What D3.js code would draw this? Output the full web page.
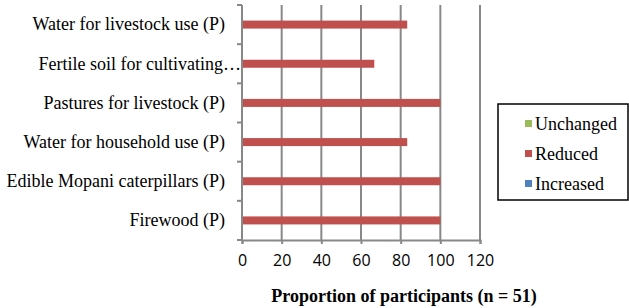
<!DOCTYPE html>
<html>
<head>
<meta charset="utf-8">
<script src="https://cdn.jsdelivr.net/npm/d3@7"></script>
<style>
  body { margin: 0; background: #fff; }
</style>
</head>
<body>
<div id="chart"></div>
<script>
// categories top to bottom, as shown in the chart
const categories = [
  "Water for livestock use (P)",
  "Fertile soil for cultivating…",
  "Pastures for livestock (P)",
  "Water for household use (P)",
  "Edible Mopani caterpillars (P)",
  "Firewood (P)"
];
const unchanged = [0, 0, 0, 0, 0, 0];
const reduced = [83.3, 66.7, 100, 83.3, 100, 100];
const increased = [0, 0, 0, 0, 0, 0];
const xTicks = [0, 20, 40, 60, 80, 100, 120];
const seriesNames = ["Unchanged", "Reduced", "Increased"];
const seriesColors = ["#9bbb59", "#c0504d", "#4f81bd"];

const W = 629, H = 308;
const margin = { top: 5, right: 149, bottom: 68, left: 242 };
const width = W - margin.left - margin.right;
const height = H - margin.top - margin.bottom;
const serif = "'Liberation Serif', 'Times New Roman', serif";

const svg = d3.select("#chart").append("svg")
  .attr("width", W).attr("height", H);

const g = svg.append("g")
  .attr("transform", `translate(${margin.left},${margin.top})`);

const x = d3.scaleLinear().domain([0, 120]).range([0, width]);
const y = d3.scaleBand().domain(categories).range([0, height]);
// three clustered series in each band: Unchanged top, Reduced middle, Increased bottom
const inner = d3.scaleBand().domain(seriesNames)
  .range([y.bandwidth() / 2 - 12, y.bandwidth() / 2 + 12]);

// vertical gridlines
g.selectAll(".grid").data(xTicks.slice(1))
  .enter().append("line")
  .attr("x1", d => x(d)).attr("x2", d => x(d))
  .attr("y1", 0).attr("y2", height)
  .attr("stroke", "#888").attr("stroke-width", 2);

// bars
const data = [unchanged, reduced, increased];
data.forEach((vals, si) => {
  g.selectAll(".bar" + si).data(categories)
    .enter().append("rect")
    .attr("x", x(0))
    .attr("y", (c) => y(c) + inner(seriesNames[si]))
    .attr("width", (c, i) => x(vals[i]) - x(0))
    .attr("height", inner.bandwidth())
    .attr("fill", seriesColors[si]);
});

// y axis
const yAxis = g.append("g")
  .call(d3.axisLeft(y).tickSize(0).tickPadding(17));
yAxis.select(".domain").remove();
yAxis.selectAll("text")
  .attr("font-family", serif)
  .attr("font-size", "18px").attr("fill", "#000")
  // truncated label runs closer to the axis, like the original
  .attr("dx", d => d.endsWith("…") ? 16 : 0);
g.append("line")
  .attr("x1", 0).attr("x2", 0).attr("y1", 0).attr("y2", height)
  .attr("stroke", "#888").attr("stroke-width", 2);
g.selectAll(".ytick").data(d3.range(categories.length + 1))
  .enter().append("line")
  .attr("x1", -5).attr("x2", 0)
  .attr("y1", i => i * y.step()).attr("y2", i => i * y.step())
  .attr("stroke", "#888").attr("stroke-width", 2);

// x axis
const xAxis = g.append("g")
  .attr("transform", `translate(0,${height})`)
  .call(d3.axisBottom(x).tickValues(xTicks).tickSize(4).tickPadding(11));
xAxis.select(".domain").attr("stroke", "#888").attr("stroke-width", 2);
xAxis.selectAll(".tick line").attr("stroke", "#888").attr("stroke-width", 2);
xAxis.selectAll("text")
  .attr("font-family", "'Open Sans', 'Liberation Sans', sans-serif")
  .attr("font-size", "16px").attr("fill", "#000");

// x axis title
svg.append("text")
  .attr("x", 404).attr("y", 302)
  .attr("text-anchor", "middle")
  .attr("font-family", serif)
  .attr("font-weight", "bold").attr("font-size", "18px")
  .text("Proportion of participants (n = 51)");

// legend
const legend = svg.append("g").attr("transform", "translate(498,104)");
legend.append("rect")
  .attr("x", 0).attr("y", 0).attr("width", 130).attr("height", 96)
  .attr("fill", "#fff").attr("stroke", "#000").attr("stroke-width", 1.5);
seriesNames.forEach((name, i) => {
  const item = legend.append("g").attr("transform", `translate(27,${20 + i * 30})`);
  item.append("rect").attr("x", 0).attr("y", -4).attr("width", 7).attr("height", 7)
    .attr("fill", seriesColors[i]);
  item.append("text").attr("x", 10).attr("y", 6)
    .attr("font-family", serif)
    .attr("font-size", "18px").text(name);
});
</script>
</body>
</html>
